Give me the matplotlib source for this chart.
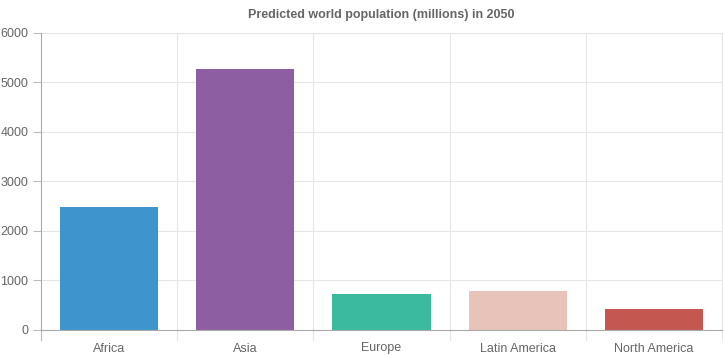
import matplotlib
matplotlib.use("Agg")
from matplotlib import pyplot as plt

# Data
regions = ["Africa", "Asia", "Europe", "Latin America", "North America"]
population = [2478, 5267, 734, 784, 433]
colors = ["#3e95cd", "#8e5ea2", "#3cba9f", "#e8c3b9", "#c45850"]
y_ticks = [0, 1000, 2000, 3000, 4000, 5000, 6000]

W, H = 724, 356
fig = plt.figure(figsize=(W / 100, H / 100), dpi=100)
left, right, top, bottom = 41, 722, 32.5, 330
ax = fig.add_axes([left / W, 1 - bottom / H, (right - left) / W, (bottom - top) / H])

plt.rcParams['font.family'] = ['Liberation Sans', 'DejaVu Sans']

x = range(len(regions))
ax.bar(x, population, width=0.72, color=colors, zorder=3)

ax.set_xlim(-0.5, len(regions) - 0.5)
ax.set_ylim(0, 6000)
ax.set_yticks(y_ticks)
ax.set_yticklabels([str(v) for v in y_ticks], fontsize=9, color="#666666",
                   family="Liberation Sans")
ax.set_xticks(list(x))
ax.set_xticklabels(regions, fontsize=9, color="#666666", family="Liberation Sans")
ax.tick_params(axis="x", length=0, pad=9)
ax.tick_params(axis="y", length=6, width=0.8, color="#bbbbbb", pad=3)

# grid lines
for v in y_ticks:
    ax.axhline(v, color="#e6e6e6", lw=0.8, zorder=1)
for b in [i + 0.5 for i in range(len(regions))]:
    ax.axvline(b, color="#e6e6e6", lw=0.8, zorder=1, clip_on=False)
# x boundary tick marks below axis
for b in [i - 0.5 for i in range(len(regions) + 1)]:
    ax.plot([b, b], [0, -200], color="#e6e6e6", lw=0.8, clip_on=False, zorder=1)
ax.plot([-0.5, -0.5], [0, -200], color="#bbbbbb", lw=0.8, clip_on=False, zorder=4)

for s in ["top", "right"]:
    ax.spines[s].set_visible(False)
ax.spines["left"].set_color("#aaaaaa")
ax.spines["bottom"].set_color("#aaaaaa")
ax.spines["left"].set_linewidth(0.8)
ax.spines["bottom"].set_linewidth(0.8)
ax.spines["left"].set_zorder(4)
ax.spines["bottom"].set_zorder(4)

fig.text((left + right) / 2 / W, 1 - 15 / H, "Predicted world population (millions) in 2050",
         ha="center", va="center", fontsize=9, fontweight="bold", color="#666666",
         family="Liberation Sans")

fig.savefig("out.png", dpi=100)
